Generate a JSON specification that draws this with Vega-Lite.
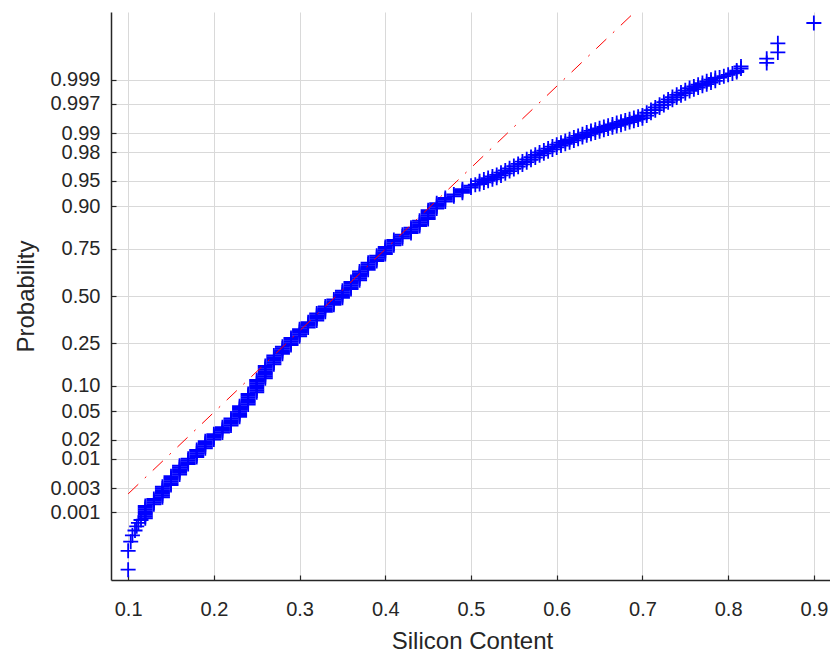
{
  "$schema": "https://vega.github.io/schema/vega-lite/v6.json",
  "autosize": {"type": "none"},
  "padding": {"left": 111, "top": 12, "right": 0, "bottom": 73},
  "width": 720,
  "height": 568,
  "background": "white",
  "config": {
    "view": {"stroke": null},
    "font": "Liberation Sans",
    "axis": {
      "domainColor": "#262626",
      "domainWidth": 1.5,
      "tickColor": "#262626",
      "tickWidth": 1.2,
      "tickSize": -5,
      "gridColor": "#d9d9d9",
      "gridWidth": 1,
      "labelColor": "#262626",
      "labelFont": "Liberation Sans",
      "labelFontSize": 20,
      "labelOverlap": false,
      "titleColor": "#262626",
      "titleFont": "Liberation Sans",
      "titleFontSize": 24,
      "titleFontWeight": "normal"
    }
  },
  "datasets": {
    "points": [
      {"x":0.100,"z":-3.91},{"x":0.100,"z":-3.64},{"x":0.103,"z":-3.51},{"x":0.105,"z":-3.42},{"x":0.108,"z":-3.35},{"x":0.110,"z":-3.29},{"x":0.112,"z":-3.24},{"x":0.115,"z":-3.20},
      {"x":0.12,"z":-3.175},{"x":0.12,"z":-3.15},{"x":0.12,"z":-3.125},{"x":0.12,"z":-3.10},{"x":0.12,"z":-3.075},{"x":0.12,"z":-3.05},{"x":0.12,"z":-3.025},{"x":0.12,"z":-3.00},
      {"x":0.13,"z":-2.975},{"x":0.13,"z":-2.95},{"x":0.13,"z":-2.925},{"x":0.13,"z":-2.90},
      {"x":0.14,"z":-2.875},{"x":0.14,"z":-2.85},{"x":0.14,"z":-2.825},{"x":0.14,"z":-2.80},{"x":0.14,"z":-2.775},{"x":0.14,"z":-2.75},{"x":0.14,"z":-2.725},
      {"x":0.15,"z":-2.70},{"x":0.15,"z":-2.675},{"x":0.15,"z":-2.65},{"x":0.15,"z":-2.625},{"x":0.15,"z":-2.60},{"x":0.15,"z":-2.575},
      {"x":0.16,"z":-2.55},{"x":0.16,"z":-2.525},{"x":0.16,"z":-2.50},{"x":0.16,"z":-2.475},{"x":0.16,"z":-2.45},{"x":0.16,"z":-2.425},
      {"x":0.17,"z":-2.40},{"x":0.17,"z":-2.375},{"x":0.17,"z":-2.35},{"x":0.17,"z":-2.325},
      {"x":0.18,"z":-2.30},{"x":0.18,"z":-2.275},{"x":0.18,"z":-2.25},{"x":0.18,"z":-2.225},{"x":0.18,"z":-2.20},
      {"x":0.19,"z":-2.175},{"x":0.19,"z":-2.15},{"x":0.19,"z":-2.125},{"x":0.19,"z":-2.10},{"x":0.19,"z":-2.075},
      {"x":0.20,"z":-2.05},{"x":0.20,"z":-2.025},{"x":0.20,"z":-2.00},{"x":0.20,"z":-1.975},
      {"x":0.21,"z":-1.95},{"x":0.21,"z":-1.925},{"x":0.21,"z":-1.90},{"x":0.21,"z":-1.875},
      {"x":0.22,"z":-1.85},{"x":0.22,"z":-1.825},{"x":0.22,"z":-1.80},{"x":0.22,"z":-1.775},{"x":0.22,"z":-1.75},
      {"x":0.23,"z":-1.725},{"x":0.23,"z":-1.70},{"x":0.23,"z":-1.675},{"x":0.23,"z":-1.65},{"x":0.23,"z":-1.625},{"x":0.23,"z":-1.60},{"x":0.23,"z":-1.575},
      {"x":0.24,"z":-1.55},{"x":0.24,"z":-1.525},{"x":0.24,"z":-1.50},{"x":0.24,"z":-1.475},{"x":0.24,"z":-1.45},{"x":0.24,"z":-1.425},{"x":0.24,"z":-1.40},
      {"x":0.25,"z":-1.375},{"x":0.25,"z":-1.35},{"x":0.25,"z":-1.325},{"x":0.25,"z":-1.30},{"x":0.25,"z":-1.275},{"x":0.25,"z":-1.25},{"x":0.25,"z":-1.225},{"x":0.25,"z":-1.20},
      {"x":0.26,"z":-1.175},{"x":0.26,"z":-1.15},{"x":0.26,"z":-1.125},{"x":0.26,"z":-1.10},{"x":0.26,"z":-1.075},{"x":0.26,"z":-1.05},{"x":0.26,"z":-1.025},{"x":0.26,"z":-1.00},
      {"x":0.27,"z":-0.975},{"x":0.27,"z":-0.95},{"x":0.27,"z":-0.925},{"x":0.27,"z":-0.90},{"x":0.27,"z":-0.875},{"x":0.27,"z":-0.85},
      {"x":0.28,"z":-0.825},{"x":0.28,"z":-0.80},{"x":0.28,"z":-0.775},{"x":0.28,"z":-0.75},{"x":0.28,"z":-0.725},
      {"x":0.29,"z":-0.70},{"x":0.29,"z":-0.675},{"x":0.29,"z":-0.65},{"x":0.29,"z":-0.625},{"x":0.29,"z":-0.60},
      {"x":0.30,"z":-0.575},{"x":0.30,"z":-0.55},{"x":0.30,"z":-0.525},{"x":0.30,"z":-0.50},{"x":0.30,"z":-0.475},
      {"x":0.31,"z":-0.45},{"x":0.31,"z":-0.425},{"x":0.31,"z":-0.40},{"x":0.31,"z":-0.375},
      {"x":0.32,"z":-0.35},{"x":0.32,"z":-0.325},{"x":0.32,"z":-0.30},{"x":0.32,"z":-0.275},{"x":0.32,"z":-0.25},
      {"x":0.33,"z":-0.225},{"x":0.33,"z":-0.20},{"x":0.33,"z":-0.175},{"x":0.33,"z":-0.15},
      {"x":0.34,"z":-0.125},{"x":0.34,"z":-0.10},{"x":0.34,"z":-0.075},{"x":0.34,"z":-0.05},
      {"x":0.35,"z":-0.025},{"x":0.35,"z":0.00},{"x":0.35,"z":0.025},{"x":0.35,"z":0.05},{"x":0.35,"z":0.075},
      {"x":0.36,"z":0.10},{"x":0.36,"z":0.125},{"x":0.36,"z":0.15},{"x":0.36,"z":0.175},{"x":0.36,"z":0.20},
      {"x":0.37,"z":0.225},{"x":0.37,"z":0.25},{"x":0.37,"z":0.275},{"x":0.37,"z":0.30},{"x":0.37,"z":0.325},{"x":0.37,"z":0.35},
      {"x":0.38,"z":0.375},{"x":0.38,"z":0.40},{"x":0.38,"z":0.425},{"x":0.38,"z":0.45},{"x":0.38,"z":0.475},
      {"x":0.39,"z":0.50},{"x":0.39,"z":0.525},{"x":0.39,"z":0.55},{"x":0.39,"z":0.575},
      {"x":0.40,"z":0.60},{"x":0.40,"z":0.625},{"x":0.40,"z":0.65},{"x":0.40,"z":0.675},{"x":0.40,"z":0.70},
      {"x":0.41,"z":0.725},{"x":0.41,"z":0.75},{"x":0.41,"z":0.775},{"x":0.41,"z":0.80},
      {"x":0.42,"z":0.825},{"x":0.42,"z":0.85},{"x":0.42,"z":0.875},
      {"x":0.43,"z":0.90},{"x":0.43,"z":0.925},{"x":0.43,"z":0.95},{"x":0.43,"z":0.975},
      {"x":0.44,"z":1.00},{"x":0.44,"z":1.025},{"x":0.44,"z":1.05},{"x":0.44,"z":1.075},
      {"x":0.45,"z":1.10},{"x":0.45,"z":1.125},{"x":0.45,"z":1.15},{"x":0.45,"z":1.175},{"x":0.45,"z":1.20},{"x":0.45,"z":1.225},
      {"x":0.46,"z":1.25},{"x":0.46,"z":1.275},{"x":0.46,"z":1.30},{"x":0.46,"z":1.325},
      {"x":0.47,"z":1.35},{"x":0.47,"z":1.375},{"x":0.47,"z":1.40},
      {"x":0.48,"z":1.425},{"x":0.48,"z":1.45},
      {"x":0.49,"z":1.475},{"x":0.49,"z":1.50},{"x":0.49,"z":1.525},
      {"x":0.50,"z":1.55},{"x":0.50,"z":1.575},
      {"x":0.505,"z":1.59},
      {"x":0.510,"z":1.60},{"x":0.510,"z":1.64},{"x":0.515,"z":1.623},{"x":0.515,"z":1.663},{"x":0.520,"z":1.645},{"x":0.520,"z":1.685},{"x":0.525,"z":1.668},{"x":0.525,"z":1.708},
      {"x":0.530,"z":1.69},{"x":0.530,"z":1.73},{"x":0.535,"z":1.722},{"x":0.535,"z":1.762},{"x":0.540,"z":1.753},{"x":0.540,"z":1.793},{"x":0.545,"z":1.784},{"x":0.545,"z":1.824},
      {"x":0.550,"z":1.816},{"x":0.550,"z":1.856},{"x":0.555,"z":1.847},{"x":0.555,"z":1.887},{"x":0.560,"z":1.88},{"x":0.560,"z":1.92},{"x":0.565,"z":1.912},{"x":0.565,"z":1.952},
      {"x":0.570,"z":1.945},{"x":0.570,"z":1.985},{"x":0.575,"z":1.977},{"x":0.575,"z":2.017},{"x":0.580,"z":2.01},{"x":0.580,"z":2.05},{"x":0.585,"z":2.038},{"x":0.585,"z":2.078},
      {"x":0.590,"z":2.066},{"x":0.590,"z":2.106},{"x":0.595,"z":2.094},{"x":0.595,"z":2.134},{"x":0.600,"z":2.122},{"x":0.600,"z":2.162},{"x":0.605,"z":2.15},{"x":0.605,"z":2.19},
      {"x":0.610,"z":2.174},{"x":0.610,"z":2.214},{"x":0.615,"z":2.198},{"x":0.615,"z":2.238},{"x":0.620,"z":2.223},{"x":0.620,"z":2.263},{"x":0.625,"z":2.247},{"x":0.625,"z":2.287},
      {"x":0.630,"z":2.271},{"x":0.630,"z":2.311},{"x":0.635,"z":2.295},{"x":0.635,"z":2.335},{"x":0.640,"z":2.318},{"x":0.640,"z":2.358},{"x":0.645,"z":2.336},{"x":0.645,"z":2.376},
      {"x":0.650,"z":2.355},{"x":0.650,"z":2.395},{"x":0.655,"z":2.374},{"x":0.655,"z":2.414},{"x":0.660,"z":2.393},{"x":0.660,"z":2.433},{"x":0.665,"z":2.411},{"x":0.665,"z":2.451},
      {"x":0.670,"z":2.43},{"x":0.670,"z":2.47},{"x":0.675,"z":2.448},{"x":0.675,"z":2.488},{"x":0.680,"z":2.467},{"x":0.680,"z":2.507},{"x":0.685,"z":2.485},{"x":0.685,"z":2.525},
      {"x":0.690,"z":2.503},{"x":0.690,"z":2.543},{"x":0.695,"z":2.522},{"x":0.695,"z":2.562},{"x":0.700,"z":2.54},{"x":0.700,"z":2.58},{"x":0.705,"z":2.578},{"x":0.705,"z":2.618},
      {"x":0.710,"z":2.616},{"x":0.710,"z":2.656},{"x":0.715,"z":2.654},{"x":0.715,"z":2.694},{"x":0.720,"z":2.692},{"x":0.720,"z":2.732},{"x":0.725,"z":2.73},{"x":0.725,"z":2.77},
      {"x":0.730,"z":2.768},{"x":0.730,"z":2.808},{"x":0.735,"z":2.802},{"x":0.735,"z":2.842},{"x":0.740,"z":2.834},{"x":0.740,"z":2.874},{"x":0.745,"z":2.866},{"x":0.745,"z":2.906},
      {"x":0.750,"z":2.898},{"x":0.750,"z":2.938},{"x":0.755,"z":2.93},{"x":0.755,"z":2.97},{"x":0.760,"z":2.954},{"x":0.760,"z":2.994},{"x":0.765,"z":2.978},{"x":0.765,"z":3.018},
      {"x":0.770,"z":3.002},{"x":0.770,"z":3.042},{"x":0.775,"z":3.026},{"x":0.775,"z":3.066},{"x":0.780,"z":3.05},{"x":0.780,"z":3.09},{"x":0.785,"z":3.074},{"x":0.785,"z":3.114},
      {"x":0.790,"z":3.12},{"x":0.795,"z":3.14},{"x":0.800,"z":3.16},{"x":0.805,"z":3.18},{"x":0.810,"z":3.20},{"x":0.810,"z":3.22},{"x":0.815,"z":3.25},{"x":0.815,"z":3.28},
      {"x":0.845,"z":3.33},{"x":0.845,"z":3.39},{"x":0.858,"z":3.48},{"x":0.858,"z":3.61},{"x":0.900,"z":3.90}
    ],
    "refline": [
      {"x":0.1,"z":-2.827},
      {"x":0.9,"z":6.49}
    ]
  },
  "encoding": {
    "x": {
      "field": "x",
      "type": "quantitative",
      "scale": {"domain": [0.08, 0.92], "nice": false, "zero": false},
      "axis": {
        "values": [0.1, 0.2, 0.3, 0.4, 0.5, 0.6, 0.7, 0.8, 0.9],
        "format": ".1f",
        "grid": true,
        "labelPadding": 24,
        "labelBaseline": "top",
        "labelFlush": false,
        "title": "Silicon Content",
        "titleX": 361,
        "titleY": 68,
        "titleAnchor": null,
        "titleAlign": "center",
        "titleBaseline": "alphabetic"
      }
    },
    "y": {
      "field": "z",
      "type": "quantitative",
      "scale": {"domain": [-4.057, 4.057], "nice": false, "zero": false},
      "axis": {
        "values": [-3.0902, -2.7478, -2.3263, -2.0537, -1.6449, -1.2816, -0.6745, 0, 0.6745, 1.2816, 1.6449, 2.0537, 2.3263, 2.7478, 3.0902],
        "labelExpr": "abs(datum.value) > 2.5 ? format(cumulativeNormal(datum.value), '.3f') : format(cumulativeNormal(datum.value), '.2f')",
        "grid": true,
        "labelPadding": 16,
        "labelFlush": false,
        "title": "Probability",
        "titleAngle": -90,
        "titleX": -78,
        "titleY": 284,
        "titleAnchor": null,
        "titleAlign": "center",
        "titleBaseline": "alphabetic"
      }
    }
  },
  "layer": [
    {
      "data": {"name": "points"},
      "mark": {
        "type": "point",
        "shape": "M-1,0H1M0,-1V1",
        "filled": false,
        "stroke": "#0000ff",
        "strokeWidth": 1.8,
        "opacity": 1,
        "size": 225,
        "clip": true
      }
    },
    {
      "data": {"name": "refline"},
      "mark": {
        "type": "line",
        "color": "#ff0000",
        "strokeWidth": 1,
        "strokeDash": [14, 9, 2, 9],
        "clip": true
      }
    }
  ]
}
